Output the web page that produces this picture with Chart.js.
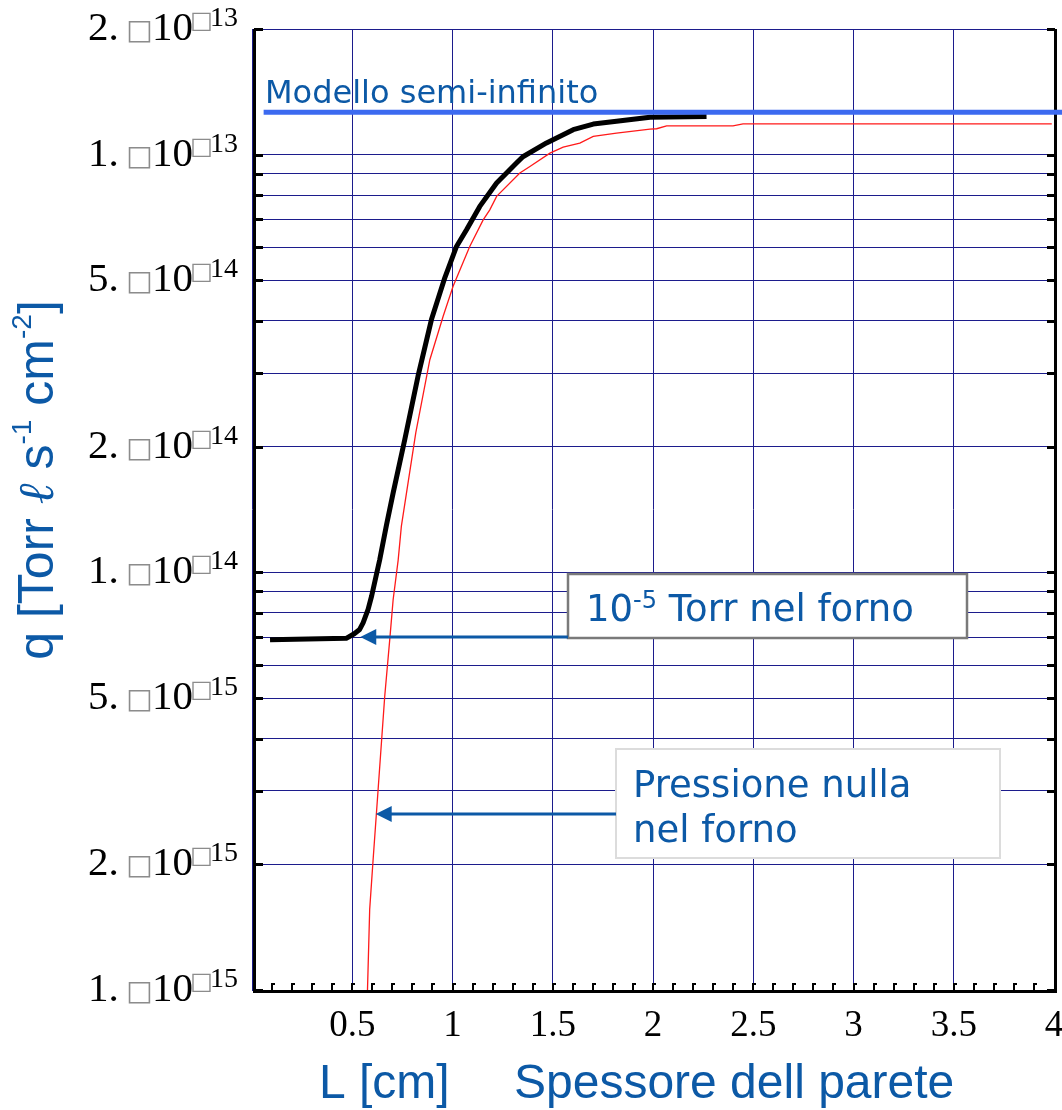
<!DOCTYPE html>
<html>
<head>
<meta charset="utf-8">
<script src="https://cdn.jsdelivr.net/npm/chart.js@4.4.1/dist/chart.umd.min.js"></script>
<style>
  html, body { margin: 0; padding: 0; background: #fff; }
  canvas { display: block; }
</style>
</head>
<body>
<canvas id="fluxChart" width="1062" height="1110"></canvas>
<script>
// spessore parete L [cm] e flusso q [Torr l s-1 cm-2]
// curva nera: 1e-5 Torr nel forno
const fornoL = [0.09, 0.47, 0.51, 0.537, 0.554, 0.579, 0.597, 0.617, 0.637, 0.671, 0.704, 0.762,
                0.828, 0.895, 0.962, 1.02, 1.07, 1.136, 1.22, 1.319, 1.351, 1.469, 1.602, 1.702,
                1.818, 1.985, 2.267];
const fornoQ = [6.9e-15, 6.95e-15, 7.13e-15, 7.3e-15, 7.57e-15, 8.15e-15, 8.79e-15, 9.71e-15, 1.072e-14,
                1.30e-14, 1.55e-14, 2.08e-14, 2.95e-14, 4.03e-14, 5.08e-14, 6.03e-14, 6.61e-14,
                7.52e-14, 8.56e-14, 9.55e-14, 9.89e-14, 1.067e-13, 1.148e-13, 1.184e-13, 1.202e-13,
                1.23e-13, 1.235e-13];

// curva rossa: pressione nulla nel forno
const nullaL = [0.576, 0.587, 0.604, 0.629, 0.662, 0.687, 0.704, 0.729, 0.745, 0.817, 0.887,
                0.953, 1.003, 1.086, 1.153, 1.186, 1.22, 1.336, 1.386, 1.486, 1.552, 1.635, 1.702,
                1.818, 1.985, 2.018, 2.068, 2.399, 2.449, 3.989];
const nullaQ = [1.0e-15, 1.56e-15, 2.05e-15, 3.02e-15, 5.05e-15, 6.9e-15, 8.61e-15, 1.07e-14, 1.29e-14,
                2.16e-14, 3.23e-14, 4.10e-14, 4.84e-14, 6.03e-14, 6.98e-14, 7.38e-14,
                7.95e-14, 9.04e-14, 9.37e-14, 1.009e-13, 1.043e-13, 1.066e-13, 1.106e-13, 1.127e-13,
                1.152e-13, 1.154e-13, 1.173e-13, 1.173e-13, 1.186e-13, 1.186e-13];

// modello semi-infinito (livello costante)
const semiL = [0.058, 4.04];
const semiQ = [1.264e-13, 1.264e-13];

const xTickValues = [0.5, 1, 1.5, 2, 2.5, 3, 3.5, 4];
const xTickLabels = ['0.5', '1', '1.5', '2', '2.5', '3', '3.5', '4'];
const yLabelValues = [2e-13, 1e-13, 5e-14, 2e-14, 1e-14, 5e-15, 2e-15, 1e-15];
const yLabelMant = ['2.', '1.', '5.', '2.', '1.', '5.', '2.', '1.'];
const yLabelExp = ['13', '13', '14', '14', '14', '15', '15', '15'];

const BLUE_TEXT = '#0c59a6';
const GRID = '#1c1c8c';

function pts(xs, ys) {
    return xs.map((x, i) => ({ x: x, y: ys[i] }));
}

function arrow(ctx, x1, y, xTip) {
    ctx.strokeStyle = BLUE_TEXT;
    ctx.fillStyle = BLUE_TEXT;
    ctx.lineWidth = 3;
    ctx.beginPath();
    ctx.moveTo(x1, y);
    ctx.lineTo(xTip + 14, y);
    ctx.stroke();
    ctx.beginPath();
    ctx.moveTo(xTip, y);
    ctx.lineTo(xTip + 16, y - 8);
    ctx.lineTo(xTip + 16, y + 8);
    ctx.closePath();
    ctx.fill();
}

function drawYLabel(ctx, y, mant, exp) {
    const base = y + 11;
    ctx.textBaseline = 'alphabetic';
    ctx.textAlign = 'left';
    ctx.fillStyle = '#000';
    ctx.font = '41px "Liberation Serif"';
    ctx.fillText(mant, 88, base);
    ctx.fillText('10', 152, base);
    ctx.font = '28px "Liberation Serif"';
    ctx.fillText(exp, 210, base - 14);
    // caratteri non resi nella formula originale
    ctx.fillStyle = '#8c8c8c';
    ctx.textAlign = 'center';
    ctx.font = '28px "DejaVu Sans"';
    ctx.fillText('\u25A1', 139.5, base - 1);
    ctx.font = '24px "DejaVu Sans"';
    ctx.fillText('\u25A1', 201.5, base - 12);
}

// testo con un tratto in apice, composto in sequenza
function drawRun(ctx, parts, x, y) {
    let cx = x;
    parts.forEach(p => {
        ctx.font = p.f;
        ctx.fillText(p.t, cx, y + (p.dy || 0));
        cx += ctx.measureText(p.t).width;
    });
}

const frame = {
    id: 'frame',
    beforeDraw(chart) {
        const ctx = chart.ctx;
        ctx.save();
        ctx.fillStyle = '#fff';
        ctx.fillRect(0, 0, chart.width, chart.height);
        ctx.restore();
    },
    beforeDatasetsDraw(chart) {
        const ctx = chart.ctx;
        const a = chart.chartArea;
        const xs = chart.scales.x;
        const ys = chart.scales.y;
        ctx.save();
        ctx.strokeStyle = '#000';
        ctx.lineWidth = 3;
        ctx.beginPath();
        ctx.moveTo(a.left + 2.5, a.top);
        ctx.lineTo(a.left + 2.5, a.bottom + 3);
        ctx.moveTo(a.left + 1, a.bottom + 1.5);
        ctx.lineTo(a.right + 3, a.bottom + 1.5);
        ctx.moveTo(a.right + 1.5, a.top);
        ctx.lineTo(a.right + 1.5, a.bottom + 3);
        ctx.stroke();

        // tacche interne sugli assi verticali
        ys.ticks.forEach(t => {
            const py = Math.round(ys.getPixelForValue(t.value)) + 0.5;
            ctx.beginPath();
            ctx.moveTo(a.left + 2, py);
            ctx.lineTo(a.left + 11, py);
            ctx.moveTo(a.right - 7, py);
            ctx.lineTo(a.right + 1, py);
            ctx.stroke();
        });

        // tacche minori sull'asse L ogni 0.1
        ctx.lineWidth = 2;
        for (let i = 1; i < 40; i++) {
            const px = Math.round(xs.getPixelForValue(i / 10));
            ctx.beginPath();
            ctx.moveTo(px, a.bottom + 1);
            ctx.lineTo(px, a.bottom - 6);
            ctx.lineTo(px + 3, a.bottom - 6);
            ctx.stroke();
        }
        ctx.restore();
    },
    afterDraw(chart) {
        const ctx = chart.ctx;
        const xs = chart.scales.x;
        const ys = chart.scales.y;
        ctx.save();

        // etichette asse q
        yLabelValues.forEach((v, i) => {
            drawYLabel(ctx, ys.getPixelForValue(v), yLabelMant[i], yLabelExp[i]);
        });

        // etichette asse L
        ctx.fillStyle = '#000';
        ctx.textAlign = 'center';
        ctx.font = '37px "Liberation Serif"';
        xTickValues.forEach((v, i) => {
            ctx.fillText(xTickLabels[i], xs.getPixelForValue(v), 1036);
        });

        // titolo asse L
        ctx.fillStyle = BLUE_TEXT;
        ctx.textAlign = 'left';
        ctx.font = '48px "Liberation Sans"';
        ctx.fillText('L [cm]', 319, 1098);
        ctx.fillText('Spessore dell parete', 514, 1098);

        // titolo asse q, ruotato
        const sans = '50px "Liberation Sans"';
        const sup = '28px "Liberation Sans"';
        const parts = [
            { t: 'q [Torr ', f: sans },
            { t: '\u2113', f: 'italic 50px "Liberation Serif"' },
            { t: ' s', f: sans },
            { t: '-1', f: sup, dy: -22 },
            { t: ' cm', f: sans },
            { t: '-2', f: sup, dy: -22 },
            { t: ']', f: sans }
        ];
        let total = 0;
        parts.forEach(p => { ctx.font = p.f; total += ctx.measureText(p.t).width; });
        ctx.save();
        ctx.translate(53, 480);
        ctx.rotate(-Math.PI / 2);
        drawRun(ctx, parts, -total / 2, 0);
        ctx.restore();

        // Modello semi-infinito
        ctx.font = '32px "DejaVu Sans"';
        ctx.fillText('Modello semi-infinito', 265, 103);

        // riquadro 10^-5 Torr
        ctx.fillStyle = '#fff';
        ctx.fillRect(568, 574, 399, 64);
        ctx.strokeStyle = '#7a7a7a';
        ctx.lineWidth = 2.5;
        ctx.strokeRect(568, 574, 399, 64);
        ctx.fillStyle = BLUE_TEXT;
        drawRun(ctx, [
            { t: '10', f: '37px "DejaVu Sans"' },
            { t: '-5', f: '24px "DejaVu Sans"', dy: -13 },
            { t: ' Torr nel forno', f: '37px "DejaVu Sans"' }
        ], 586, 621);
        arrow(ctx, 568, ys.getPixelForValue(7.0e-15), xs.getPixelForValue(0.54));

        // riquadro pressione nulla
        ctx.fillStyle = '#fff';
        ctx.fillRect(616, 749, 384, 109);
        ctx.strokeStyle = '#dcdcdc';
        ctx.lineWidth = 2;
        ctx.strokeRect(616, 749, 384, 109);
        ctx.fillStyle = BLUE_TEXT;
        ctx.font = '37px "DejaVu Sans"';
        ctx.fillText('Pressione nulla', 633, 797);
        ctx.fillText('nel forno', 633, 842);
        arrow(ctx, 616, ys.getPixelForValue(2.64e-15), xs.getPixelForValue(0.617));

        ctx.restore();
    }
};

function qTicks(scale) {
    const ticks = [];
    for (let d = -15; d <= -13; d++) {
        for (let m = 1; m <= 9; m++) {
            const v = m * Math.pow(10, d);
            if (v <= 2.0001e-13) ticks.push({ value: v });
        }
    }
    scale.ticks = ticks;
}

new Chart(document.getElementById('fluxChart'), {
    type: 'line',
    data: {
        datasets: [
            {
                data: pts(semiL, semiQ),
                borderColor: '#3c6af0',
                borderWidth: 5,
                pointRadius: 0,
                tension: 0,
                clip: false
            },
            {
                data: pts(fornoL, fornoQ),
                borderColor: '#000',
                borderWidth: 5,
                pointRadius: 0,
                tension: 0,
                borderJoinStyle: 'round'
            },
            {
                data: pts(nullaL, nullaQ),
                borderColor: '#ff1a1a',
                borderWidth: 1.3,
                pointRadius: 0,
                tension: 0
            }
        ]
    },
    options: {
        responsive: false,
        animation: false,
        events: [],
        layout: { padding: { top: 29, right: 8, left: 0, bottom: 0 } },
        plugins: { legend: { display: false }, tooltip: { enabled: false } },
        scales: {
            x: {
                type: 'linear',
                min: 0,
                max: 4,
                ticks: { display: false, stepSize: 0.5 },
                grid: { color: GRID, lineWidth: 1, drawTicks: false },
                border: { display: false },
                afterFit: s => { s.height = 120; }
            },
            y: {
                type: 'logarithmic',
                min: 1e-15,
                max: 2e-13,
                afterBuildTicks: qTicks,
                ticks: { display: false },
                grid: { color: GRID, lineWidth: 1, drawTicks: false },
                border: { display: false },
                afterFit: s => { s.width = 252; }
            }
        }
    },
    plugins: [frame]
});
</script>
</body>
</html>
